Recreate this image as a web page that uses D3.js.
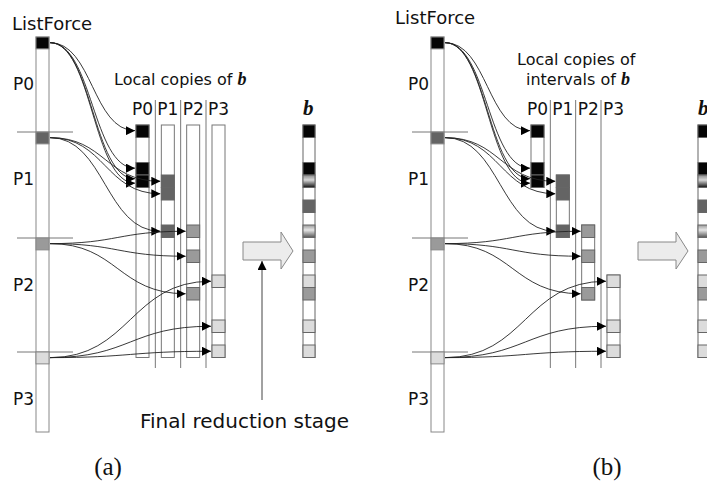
<!DOCTYPE html>
<html>
<head>
<meta charset="utf-8">
<script src="https://cdn.jsdelivr.net/npm/d3@7.9.0/dist/d3.min.js"></script>
<style>
  body { margin: 0; background: #fff; }
  text { font-family: "DejaVu Sans", sans-serif; fill: #111; }
  .serif { font-family: "Liberation Serif", "DejaVu Serif", serif; }
</style>
</head>
<body>
<svg id="fig" width="707" height="484"></svg>
<script>
// rows: one row = one entry of b
const procs = ["P0", "P1", "P2", "P3"];
const procFill = { P0: "#050505", P1: "#646464", P2: "#9a9a9a", P3: "#dcdcdc" };

// ListForce column (start row of each processor's block)
const listTop = -7.04, listBottom = 24.56;
const listRows = [-7.04, 0.56, 9.04, 18.16];

// entries written by each processor into its local copy
const localRows = {
  P0: [0, 3, 4],
  P1: [4, 5, 8],
  P2: [8, 10, 13],
  P3: [12, 15.6, 17.6]
};
// arrows (target rows) from each ListForce block
const arrowRows = {
  P0: [0.45, 3.45, 4.3, 4.65],
  P1: [4.5, 5.5, 8.5],
  P2: [8.5, 10.5, 13.5],
  P3: [12.5, 16.1, 18.1]
};
// interval held by each processor in (b)
const intervals = { P0: [0, 5], P1: [4, 9], P2: [8, 14], P3: [12, 18.6] };
const bLength = 18.6;

// final vector b
const bRows = [0, 3, 4, 6, 8, 10, 12, 13, 15.6, 17.6];
const bFill = ["P0", "P0", "P0P1", "P1", "P1P2", "P2", "P3", "P2", "P3", "P3"];

const svg = d3.select("#fig");
const y = d3.scaleLinear().domain([0, 1]).range([125, 137.5]);
const xLocal = d3.scalePoint().domain(procs).range([136, 212]);
const colW = 13;

const defs = svg.append("defs");
defs.append("marker")
  .attr("id", "head").attr("markerUnits", "userSpaceOnUse")
  .attr("viewBox", "0 0 10 10").attr("refX", 10).attr("refY", 5)
  .attr("markerWidth", 9).attr("markerHeight", 9).attr("orient", "auto")
  .append("path").attr("d", "M0,0L10,5L0,10Z").attr("fill", "#000");

function grad(id, stops) {
  const g = defs.append("linearGradient").attr("id", id)
    .attr("x1", 0).attr("x2", 0).attr("y1", 0).attr("y2", 1);
  stops.forEach(([o, c]) => g.append("stop").attr("offset", o).attr("stop-color", c));
}
grad("P0P1", [[0, "#8a8a8a"], [0.4, "#d8d8d8"], [1, "#111"]]);
grad("P1P2", [[0, "#9a9a9a"], [0.4, "#e6e6e6"], [1, "#555"]]);
const fillOf = (k) => procFill[k] || `url(#${k})`;

const link = d3.linkHorizontal();

function drawPanel(g, mode) {
  // ListForce column
  g.append("rect")
    .attr("x", 36).attr("y", y(listTop)).attr("width", colW)
    .attr("height", y(listBottom) - y(listTop))
    .attr("fill", "#fff").attr("stroke", "#888");
  listRows.forEach((r, i) => {
    if (i > 0) {
      g.append("line").attr("x1", 17).attr("x2", 73)
        .attr("y1", y(r)).attr("y2", y(r)).attr("stroke", "#777");
    }
    g.append("rect")
      .attr("x", 36).attr("y", y(r)).attr("width", colW).attr("height", y(0.95) - y(0))
      .attr("fill", procFill[procs[i]]).attr("stroke", "#888");
    g.append("text").attr("x", 13).attr("y", y(r + 4.25))
      .attr("font-size", 17).text(procs[i]);
  });

  // separators between local copies
  procs.slice(1).forEach((p) => {
    g.append("line").attr("x1", xLocal(p) - 6).attr("x2", xLocal(p) - 6)
      .attr("y1", 100).attr("y2", 368).attr("stroke", "#777");
  });

  // local copies
  procs.forEach((p) => {
    const span = mode === "a" ? [0, bLength] : intervals[p];
    g.append("rect").attr("x", xLocal(p)).attr("y", y(span[0]))
      .attr("width", colW).attr("height", y(span[1]) - y(span[0]))
      .attr("fill", "#fff").attr("stroke", "#777");
    localRows[p].forEach((r) => {
      g.append("rect").attr("x", xLocal(p)).attr("y", y(r))
        .attr("width", colW).attr("height", y(1) - y(0))
        .attr("fill", procFill[p]).attr("stroke", "#666");
    });
    g.append("text").attr("x", xLocal(p) - 4).attr("y", 115)
      .attr("font-size", 17).text(p);
  });

  // arrows from ListForce to local copies
  procs.forEach((p, i) => {
    const sy = y(listRows[i] + 0.45);
    arrowRows[p].forEach((r) => {
      g.append("path")
        .attr("d", link({ source: [50, sy], target: [xLocal(p) - 1, y(r)] }))
        .attr("fill", "none").attr("stroke", "#222").attr("stroke-width", 0.9)
        .attr("marker-end", "url(#head)");
    });
  });

  // big arrow
  const bx = 243, by = y(10.08);
  g.append("path")
    .attr("d", `M${bx},${by - 9}H${bx + 38}V${by - 19}L${bx + 50},${by}L${bx + 38},${by + 18}V${by + 9}H${bx}Z`)
    .attr("fill", "#ececec").attr("stroke", "#888");

  // b vector
  g.append("text").attr("class", "serif").attr("x", 303).attr("y", 115)
    .attr("font-size", 21).attr("font-weight", "bold").attr("font-style", "italic").text("b");
  g.append("rect").attr("x", 303).attr("y", y(0)).attr("width", 12)
    .attr("height", y(bLength) - y(0)).attr("fill", "#fff").attr("stroke", "#666");
  bRows.forEach((r, i) => {
    g.append("rect").attr("x", 303).attr("y", y(r)).attr("width", 12)
      .attr("height", y(1) - y(0)).attr("fill", fillOf(bFill[i])).attr("stroke", "#666");
  });
}

const ga = svg.append("g");
drawPanel(ga, "a");
ga.append("text").attr("x", 12).attr("y", 30).attr("font-size", 18).text("ListForce");
ga.append("text").attr("x", 114).attr("y", 85).attr("font-size", 16)
  .text("Local copies of ")
  .append("tspan").attr("class", "serif").attr("font-weight", "bold")
  .attr("font-style", "italic").attr("font-size", 18).text("b");
ga.append("line").attr("x1", 262).attr("x2", 262).attr("y1", 400).attr("y2", 261)
  .attr("stroke", "#444").attr("marker-end", "url(#head)");
ga.append("text").attr("x", 140).attr("y", 428).attr("font-size", 20).text("Final reduction stage");
ga.append("text").attr("class", "serif").attr("x", 108).attr("y", 475)
  .attr("text-anchor", "middle").attr("font-size", 25).text("(a)");

const gb = svg.append("g").attr("transform", "translate(395,0)");
drawPanel(gb, "b");
gb.append("text").attr("x", 0).attr("y", 24).attr("font-size", 18).text("ListForce");
gb.append("text").attr("x", 122).attr("y", 65).attr("font-size", 16).text("Local copies of");
gb.append("text").attr("x", 131).attr("y", 85).attr("font-size", 16)
  .text("intervals of ")
  .append("tspan").attr("class", "serif").attr("font-weight", "bold")
  .attr("font-style", "italic").attr("font-size", 18).text("b");
gb.append("text").attr("class", "serif").attr("x", 212).attr("y", 475)
  .attr("text-anchor", "middle").attr("font-size", 25).text("(b)");
</script>
</body>
</html>
